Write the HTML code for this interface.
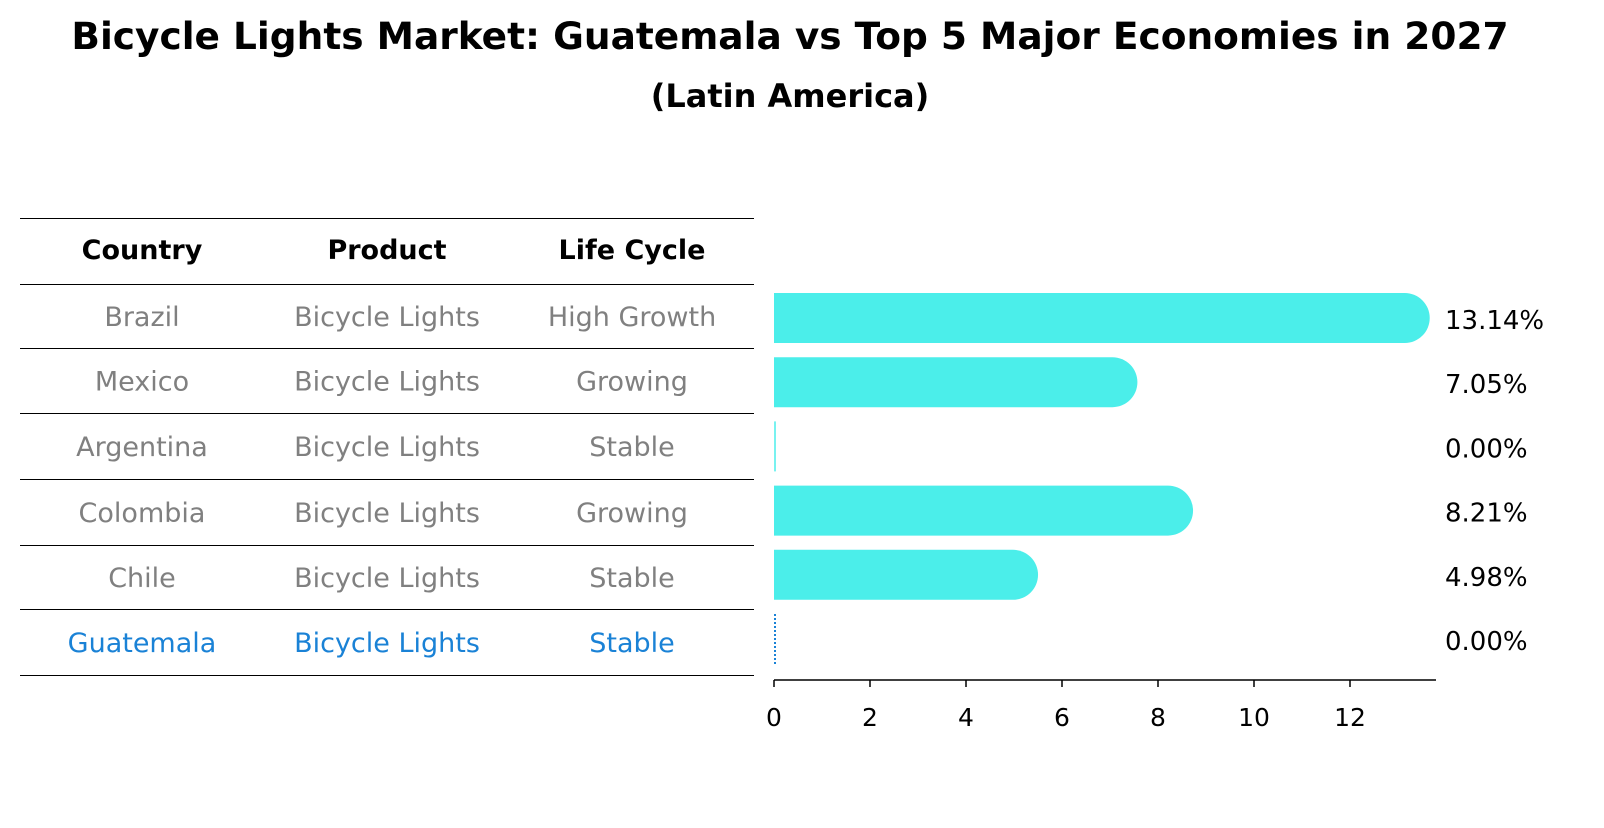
<!DOCTYPE html>
<html><head><meta charset="utf-8"><style>
body{margin:0;background:#fff;width:1604px;height:823px;overflow:hidden;font-family:"Liberation Sans","DejaVu Sans",sans-serif}
</style></head><body>
<svg width="1604" height="823" xmlns="http://www.w3.org/2000/svg" font-family="DejaVu Sans, Liberation Sans, sans-serif">
<text x="790" y="49" text-anchor="middle" font-size="37.5" font-weight="bold">Bicycle Lights Market: Guatemala vs Top 5 Major Economies in 2027</text>
<text x="790" y="107" text-anchor="middle" font-size="32" font-weight="bold">(Latin America)</text>
<g id="table"></g>
<g id="bars"></g>
<g id="axis"></g>
</svg>
<script>
const countries=["Brazil","Mexico","Argentina","Colombia","Chile","Guatemala"];
const products=["Bicycle Lights","Bicycle Lights","Bicycle Lights","Bicycle Lights","Bicycle Lights","Bicycle Lights"];
const lifeCycles=["High Growth","Growing","Stable","Growing","Stable","Stable"];
const growth=[13.14,7.05,0.00,8.21,4.98,0.00];
const ticks=[0,2,4,6,8,10,12];
const NS="http://www.w3.org/2000/svg";
function mk(t,a,p){const e=document.createElementNS(NS,t);for(const k in a)e.setAttribute(k,a[k]);p.appendChild(e);return e;}
const X=v=>774+v*48;
const rowY=i=>318+i*64.2;
const tbl=document.getElementById('table');
const lines=[218,284,348,413,479,545,609,675];
lines.forEach(y=>{const l=mk('line',{x1:20,x2:754,y1:y+0.5,y2:y+0.5,stroke:'#000','stroke-width':1},tbl);

});
const cols=[142,387,632];
["Country","Product","Life Cycle"].forEach((h,j)=>{const t=mk('text',{x:cols[j],y:259,'text-anchor':'middle','font-size':27,'font-weight':'bold'},tbl);t.textContent=h;

});
countries.forEach((c,i)=>{
 const col=c==="Guatemala"?'#1a82d6':'#808080';
 [c,products[i],lifeCycles[i]].forEach((v,j)=>{
  const t=mk('text',{x:cols[j],y:(lines[i+1]+lines[i+2])/2+10,'text-anchor':'middle','font-size':27,fill:col},tbl);t.textContent=v;
  
  
 });
});
const bars=document.getElementById('bars');
growth.forEach((v,i)=>{
 const cy=rowY(i),h=50,r=25;
 let el;
 if(v>0){
  const x0=X(0),x1=X(v);
  el=mk('path',{d:`M${x0},${cy-h/2}H${x1}A${r},${r} 0 0 1 ${x1},${cy+h/2}H${x0}Z`,fill:'#4beeea'},bars);
 }else if(countries[i]==="Guatemala"){
  el=mk('line',{x1:X(0)+1,x2:X(0)+1,y1:cy-h/2,y2:cy+h/2,stroke:'#1a82d6','stroke-width':2,'stroke-dasharray':'2,2'},bars);
 }else{
  el=mk('line',{x1:X(0)+1,x2:X(0)+1,y1:cy-h/2,y2:cy+h/2,stroke:'#4beeea','stroke-width':1.5},bars);
 }
 
 
 const t=mk('text',{x:1445,y:cy+11,'font-size':26},bars);t.textContent=v.toFixed(2)+'%';
 
 
});
const ax=document.getElementById('axis');
mk('line',{x1:774,x2:1436,y1:680,y2:680,stroke:'#000','stroke-width':1.5},ax);
ticks.forEach(v=>{
 const tk=mk('line',{x1:X(v),x2:X(v),y1:680,y2:687,stroke:'#000','stroke-width':1.5},ax);
 
 
 const t=mk('text',{x:X(v),y:726,'text-anchor':'middle','font-size':25},ax);t.textContent=v;
 
 
});
</script>
</body></html>
